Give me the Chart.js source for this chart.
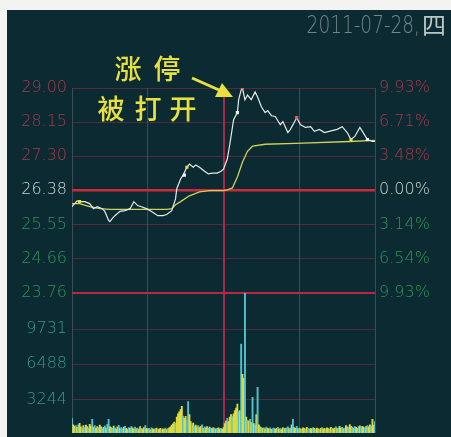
<!DOCTYPE html>
<html>
<head>
<meta charset="utf-8">
<script src="https://cdn.jsdelivr.net/npm/chart.js@4"></script>
<style>
html,body{margin:0;padding:0;background:#f3f3f1;}
#wrap{position:absolute;left:7px;top:10px;width:444px;height:427px;background:#0b2a31;}
</style>
</head>
<body>
<div id="wrap"><canvas id="c" width="444" height="427"></canvas></div>
<script>
// 分时图 2011-07-28
const prevClose = 26.38, limitUp = 29.00, limitDown = 23.76;
const priceTickText = ['23.76','24.66','25.55','26.38','27.30','28.15','29.00'];
const pctTickText = ['9.93%','6.54%','3.14%','0.00%','3.48%','6.71%','9.93%'];
const volTickText = ['3244','6488','9731'];

// 价格线 (分钟, 价格)
const priceMin = [0,4,6,10,14,17,20,24,26,29,30,32,34,38,42,46,49,52,55,59,63,68,72,75,79,82,83,86,88,91,93,96,98,101,105,108,111,115,118,120,
  123,125,128,131,132,134,135,137,139,142,145,147,150,153,155,158,161,165,167,171,173,175,178,181,185,189,192,196,200,206,210,214,218,221,224,228,230,234,238,240];
const priceVal = [25.96,26.11,26.09,26.09,26.04,25.91,25.96,25.91,25.84,25.61,25.58,25.66,25.73,25.84,25.86,25.91,26.09,25.99,25.96,25.91,25.84,25.73,25.73,25.76,25.86,26.16,26.42,26.67,26.77,26.97,27.05,26.97,27.03,26.97,26.87,26.80,26.82,26.82,26.87,26.92,
  27.18,27.56,28.19,28.37,28.70,28.95,29.00,28.70,28.82,28.70,28.90,28.77,28.52,28.37,28.42,28.29,28.27,28.06,28.14,27.86,27.94,28.06,28.24,28.06,27.99,28.01,27.89,27.94,27.86,27.91,27.94,28.01,27.86,27.68,27.76,27.99,27.89,27.68,27.63,27.63];

// 均价线
const avgMin = [0,6,14,22,30,46,75,79,82,86,93,101,109,120,123,127,131,135,139,143,153,177,220,240];
const avgVal = [26.04,26.04,25.96,25.91,25.89,25.89,25.89,25.91,26.01,26.09,26.24,26.34,26.37,26.37,26.39,26.44,26.72,27.10,27.38,27.51,27.56,27.58,27.63,27.66];

// 大单标记
const markMin = [6,89,91,131,135,178,221,234];
const markVal = [26.09,26.77,26.97,28.37,29.00,28.24,27.68,27.68];
const markKind = ['b','w','b','w','r','r','b','w'];

// 成交量 (每分钟)
const volume = [
  1480,900,760,820,650,900,1020,700,560,830,640,880,720,600,950,780,1390,690,820,560,
  740,610,880,700,520,660,800,590,930,1390,720,640,560,780,620,510,700,850,580,640,
  520,690,760,580,470,640,560,720,610,500,680,540,600,460,720,580,510,640,830,560,
  490,560,430,610,520,470,540,600,450,500,560,430,520,480,590,460,540,620,700,860,
  980,1150,1020,1600,1900,2100,2300,2600,1700,1500,1680,1300,3050,1850,1200,900,1050,760,880,700,
  820,640,760,900,580,700,620,740,560,680,600,520,640,580,490,560,620,510,560,480,
  640,1000,1250,1500,1200,1600,1850,1650,1900,2200,2450,2800,2100,2200,8350,5560,5200,13100,1600,1300,
  1250,1400,1100,3430,1000,900,1850,4360,900,700,650,560,620,520,680,580,500,620,470,540,
  600,480,560,650,500,580,460,640,520,580,620,700,540,600,900,1390,640,560,760,520,
  600,540,480,620,560,500,660,540,470,580,520,640,560,480,600,520,460,580,640,500,
  560,480,620,540,500,660,580,520,600,700,540,620,760,580,660,540,600,820,700,640,
  920,760,680,600,740,660,580,720,800,640,760,680,600,740,820,700,900,760,1390,880,1200
];
// 1 = 主动买 (黄), 0 = 主动卖 (青)
const volDir = [
  0,1,1,0,1,0,1,1,0,1,0,1,1,0,1,1,0,1,0,1,
  1,0,1,1,0,1,0,1,0,0,1,1,0,1,0,1,1,0,1,0,
  0,1,0,1,1,0,1,0,1,1,0,1,0,1,1,0,1,1,0,1,
  1,0,1,0,1,1,0,1,0,1,1,0,1,1,0,1,0,1,1,1,
  1,1,0,1,1,1,1,1,0,1,1,0,0,1,1,0,1,0,1,1,
  0,1,1,0,1,0,1,1,0,1,0,1,1,0,1,0,1,1,0,1,
  1,1,1,0,1,1,1,0,1,1,1,1,0,1,0,1,1,0,1,0,
  1,0,1,0,1,0,1,0,1,1,0,1,0,1,0,1,1,0,1,0,
  0,1,1,0,1,0,1,1,0,1,0,0,1,0,1,0,1,1,0,1,
  0,1,0,1,1,0,1,0,0,1,1,0,1,0,1,1,0,1,0,1,
  1,0,1,1,0,1,0,1,1,0,1,0,1,1,0,1,0,1,1,0,
  1,1,0,1,0,1,1,0,1,0,1,1,0,1,0,1,1,0,1,1,0
];

const RED = '#a83a4c', GREEN = '#2f9558', WHITE = '#ccd6d0', VOLTXT = '#37998c';
const FAINT = 'rgba(150,45,70,0.5)';
const tickFont = {family:'DejaVu Sans', size:16, weight:'200'};
// 量能区: 底线略低于画面下沿
const volLow = 137, volHigh = 13113;

const markColor = {b:'#e8e04a', w:'#f4f4f4', r:'#ff5a5a'};

// 固定轴宽, 去掉首末刻度标签引起的额外留白
const fixWidth = w => s => { s.width = w; s.paddingTop = 0; s.paddingBottom = 0; };

const notePlugin = {
  id: 'note',
  afterDraw(chart) {
    const ctx = chart.ctx;
    ctx.save();
    // 日期 (窄体)
    ctx.textBaseline = 'middle';
    ctx.fillStyle = '#74868c';
    ctx.font = '200 25px "DejaVu Sans", sans-serif';
    ctx.save();
    ctx.translate(413, 16);
    ctx.scale(0.74, 1);
    ctx.textAlign = 'right';
    ctx.fillText('2011-07-28,', 0, 0);
    ctx.restore();
    ctx.fillStyle = '#bcc6c4';
    ctx.font = '24px "Noto Sans CJK SC"';
    ctx.textAlign = 'center';
    ctx.fillText('四', 427, 15);
    // 注释文字
    ctx.fillStyle = '#e8e040';
    ctx.font = '500 27px "Noto Sans CJK SC"';
    [['涨',121],['停',160]].forEach(([t,x]) => ctx.fillText(t, x, 59));
    [['被',104],['打',141],['开',176]].forEach(([t,x]) => ctx.fillText(t, x, 99));
    // 箭头
    ctx.strokeStyle = '#e8e040';
    ctx.lineWidth = 3;
    ctx.beginPath(); ctx.moveTo(185, 68); ctx.lineTo(212, 80); ctx.stroke();
    ctx.beginPath(); ctx.moveTo(226, 87); ctx.lineTo(208, 87); ctx.lineTo(215, 73); ctx.closePath(); ctx.fill();
    ctx.restore();
  }
};

const priceTicks = axis => {
  const step = (limitUp - limitDown) / (priceTickText.length - 1);
  axis.ticks = priceTickText.map((t, i) => ({value: limitDown + i * step}));
};
const priceColor = c => c.index < 3 ? GREEN : c.index === 3 ? WHITE : RED;

new Chart(document.getElementById('c'), {
  type: 'bar',
  data: {
    datasets: [
      {
        type: 'line', order: 0, xAxisID: 'x', yAxisID: 'yPrice',
        data: markMin.map((m, i) => ({x: m, y: markVal[i]})),
        showLine: false, pointStyle: 'rect', pointRadius: 2.2,
        pointBackgroundColor: markKind.map(k => markColor[k]), pointBorderWidth: 0
      },
      {
        type: 'line', order: 1, xAxisID: 'x', yAxisID: 'yPrice',
        data: priceMin.map((m, i) => ({x: m, y: priceVal[i]})),
        borderColor: '#e6ece8', borderWidth: 1.2, pointRadius: 0, tension: 0
      },
      {
        type: 'line', order: 2, xAxisID: 'x', yAxisID: 'yPrice',
        data: avgMin.map((m, i) => ({x: m, y: avgVal[i]})),
        borderColor: '#cfd25a', borderWidth: 1.3, pointRadius: 0, tension: 0
      },
      {
        type: 'bar', order: 3, xAxisID: 'x', yAxisID: 'yVol',
        data: volume.map((v, i) => ({x: i, y: v})),
        backgroundColor: volDir.map(d => d ? '#e2da3a' : '#50c2cc'),
        borderWidth: 0, barPercentage: 1, categoryPercentage: 1, grouped: false
      }
    ]
  },
  options: {
    responsive: false, animation: false, devicePixelRatio: 1,
    layout: {padding: {top: 78, left: 0, right: 0, bottom: 0}},
    plugins: {legend: {display: false}, tooltip: {enabled: false}},
    scales: {
      x: {
        type: 'linear', min: 0, max: 240, offset: false,
        afterFit: s => { s.height = 0; s.paddingLeft = 0; s.paddingRight = 0; },
        ticks: {display: false, stepSize: 60},
        grid: {offset: false, drawTicks: false,
          color: c => c.tick.value === 120 ? '#a8284a' : 'rgba(110,120,140,0.45)',
          lineWidth: c => c.tick.value === 120 ? 2 : 1},
        border: {display: false}
      },
      yVol: {
        position: 'left', stack: 'L', stackWeight: 142, min: volLow, max: volHigh,
        afterBuildTicks: axis => { axis.ticks = volTickText.map(t => ({value: Number(t)})); },
        afterFit: fixWidth(65),
        ticks: {font: tickFont, color: VOLTXT, padding: 5, autoSkip: false, callback: (v, i) => volTickText[i]},
        grid: {drawTicks: false, color: FAINT},
        border: {display: false}
      },
      yPrice: {
        position: 'left', stack: 'L', stackWeight: 207, min: limitDown, max: limitUp,
        afterBuildTicks: priceTicks,
        afterFit: fixWidth(65),
        ticks: {font: tickFont, color: priceColor, padding: 5, autoSkip: false, callback: (v, i) => priceTickText[i]},
        grid: {drawTicks: false,
          color: c => c.index === 3 ? '#cc2a3e' : c.index === 0 ? '#b8283e' : FAINT,
          lineWidth: c => c.index === 3 ? 2.5 : c.index === 0 ? 2 : 1},
        border: {display: false}
      },
      yPct: {
        position: 'right', stack: 'R', stackWeight: 207, min: limitDown, max: limitUp,
        afterBuildTicks: priceTicks,
        afterFit: fixWidth(76),
        ticks: {font: tickFont, color: priceColor, padding: 4, autoSkip: false, callback: (v, i) => pctTickText[i]},
        grid: {display: false, drawTicks: false},
        border: {display: false}
      },
      yVolR: {
        position: 'right', stack: 'R', stackWeight: 142, min: volLow, max: volHigh,
        afterFit: fixWidth(76),
        ticks: {display: false},
        grid: {display: false, drawTicks: false},
        border: {display: false}
      }
    }
  },
  plugins: [notePlugin]
});
</script>
</body>
</html>
